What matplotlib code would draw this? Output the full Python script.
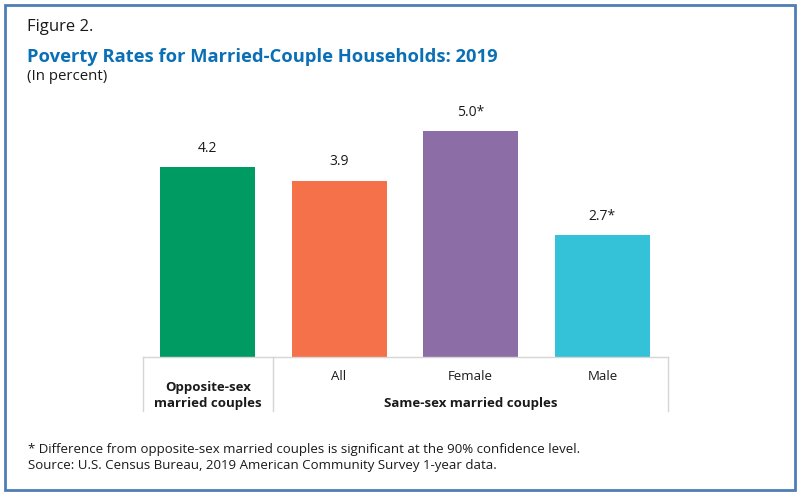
import matplotlib
matplotlib.use("Agg")
import matplotlib.pyplot as plt
from matplotlib.patches import Rectangle
from matplotlib.lines import Line2D

categories = ["Opposite-sex\nmarried couples", "All", "Female", "Male"]
values = [4.2, 3.9, 5.0, 2.7]
value_labels = ["4.2", "3.9", "5.0*", "2.7*"]
colors = ["#009B63", "#F4714A", "#8D6DA6", "#34C2D8"]
group_label = "Same-sex married couples"

plt.rcParams['font.family'] = ['Open Sans', 'DejaVu Sans']

W, H = 800, 495
fig = plt.figure(figsize=(W / 100, H / 100), dpi=100)

def fx(px):
    return px / W

def fy(py):
    return 1 - py / H

# outer frame
fig.patches.append(Rectangle((fx(5), fy(490)), fx(790), 485 / H, transform=fig.transFigure,
                             fill=False, edgecolor="#4F7DB5", linewidth=2))

ax_left, ax_right, ax_top, ax_bottom = 143, 668, 100, 357
ax = fig.add_axes([fx(ax_left), fy(ax_bottom), fx(ax_right - ax_left), (ax_bottom - ax_top) / H])
px_per_unit = 45.25
ax.set_ylim(0, (ax_bottom - ax_top) / px_per_unit)
ax.set_xlim(-0.49, 3.5)
x = list(range(len(values)))
bars = ax.bar(x, values, width=0.722, color=colors, edgecolor="none")
for xi, v, lab in zip(x, values, value_labels):
    ax.annotate(lab, (xi, v), xytext=(0, 8), textcoords="offset points",
                ha="center", va="bottom", fontsize=10, color="#1a1a1a")
ax.axis("off")

# table lines
gray = "#D6D6D6"
fig.lines.append(Line2D([fx(143), fx(668)], [fy(357), fy(357)], transform=fig.transFigure, color=gray, lw=1))
for xp in (143, 273, 668):
    fig.lines.append(Line2D([fx(xp), fx(xp)], [fy(357), fy(411)], transform=fig.transFigure, color=gray, lw=1))

# category labels
fig.text(fx(208), fy(395), categories[0], ha="center", va="center", fontsize=9.5,
         fontweight="bold", color="#1a1a1a", linespacing=1.3)
for xp, lab in zip((338.5, 470.5, 602.5), categories[1:]):
    fig.text(fx(xp), fy(376), lab, ha="center", va="center", fontsize=9.5, color="#1a1a1a")
fig.text(fx(471), fy(403), group_label, ha="center", va="center", fontsize=9.5,
         fontweight="bold", color="#1a1a1a")

# titles
fig.text(fx(27), fy(27), "Figure 2.", ha="left", va="center", fontsize=12, color="#1a1a1a")
fig.text(fx(27), fy(57), "Poverty Rates for Married-Couple Households: 2019", ha="left", va="center",
         fontsize=13.2, fontweight="bold", color="#0B6FB6")
fig.text(fx(27), fy(76), "(In percent)", ha="left", va="center", fontsize=10.8, color="#1a1a1a")

# footnotes
fig.text(fx(28), fy(450), "* Difference from opposite-sex married couples is significant at the 90% confidence level.",
         ha="left", va="center", fontsize=9.5, color="#1a1a1a")
fig.text(fx(28), fy(466), "Source: U.S. Census Bureau, 2019 American Community Survey 1-year data.",
         ha="left", va="center", fontsize=9.5, color="#1a1a1a")

fig.savefig("out.png", dpi=100)
